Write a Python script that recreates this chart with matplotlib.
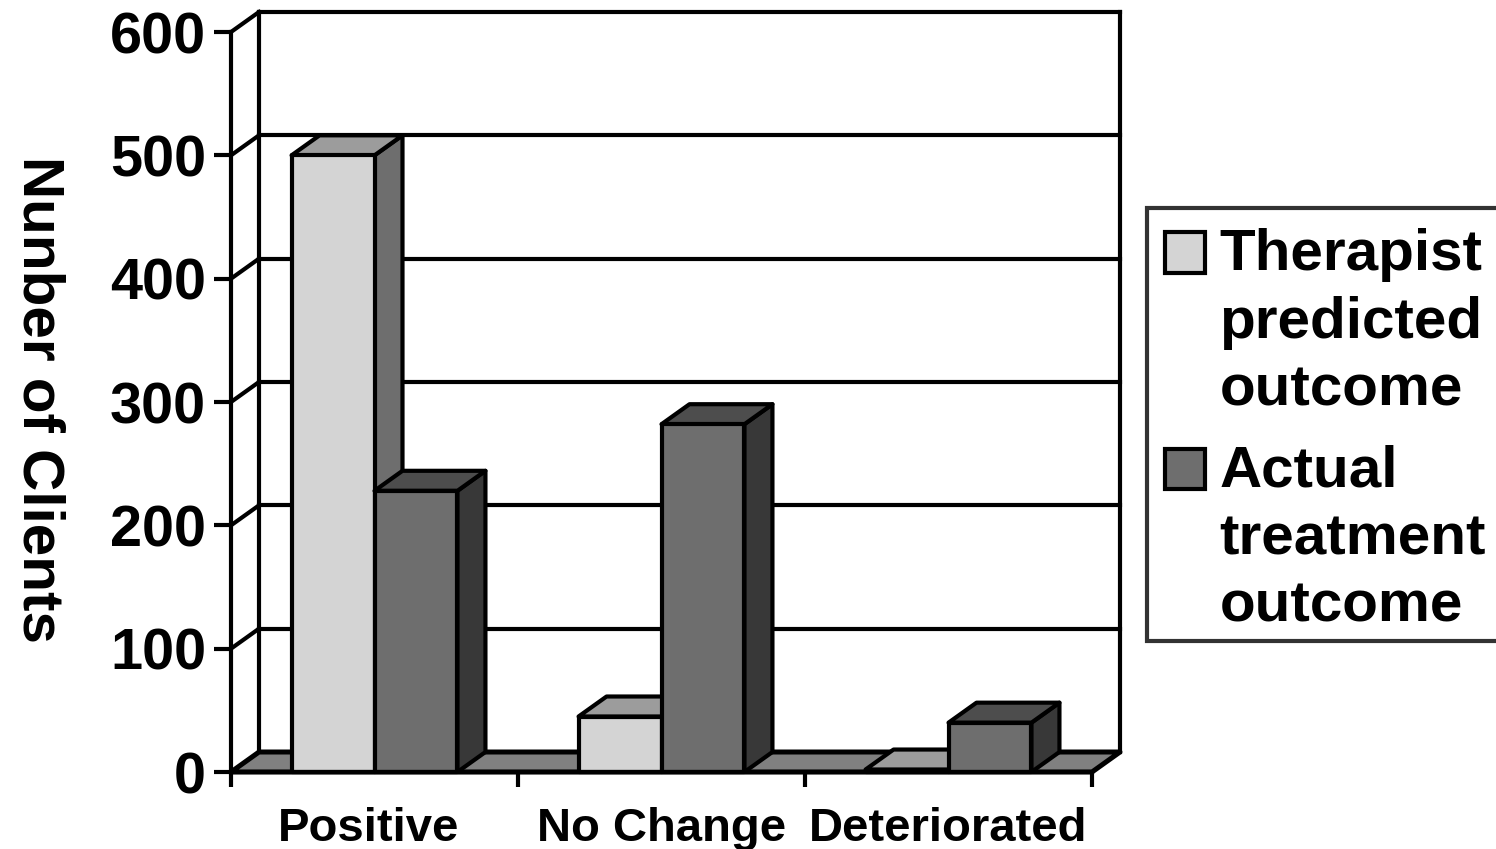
import matplotlib
matplotlib.use('Agg')
import matplotlib.pyplot as plt
from matplotlib.patches import Patch, Polygon, Rectangle
from matplotlib.legend_handler import HandlerPatch

categories = ['Positive', 'No Change', 'Deteriorated']
label_positions = [0.48, 1.5, 2.5]
therapist_predicted = [500, 45, 2]
actual_outcome = [228, 282, 40]
y_ticks = [0, 100, 200, 300, 400, 500, 600]
legend_labels = ['Therapist\npredicted\noutcome', 'Actual\ntreatment\noutcome']

W, H = 1496, 849
LEFT, RIGHT, BOTTOM, TOP = 231, 1092, 772, 32
DX = 28 / ((RIGHT - LEFT) / 3)
DY = 20 / ((BOTTOM - TOP) / 600)
BAR_W = 0.289
LW = 3

LIGHT = ('#d4d4d4', '#9c9c9c', '#6e6e6e')
DARK = ('#6e6e6e', '#4d4d4d', '#383838')

plt.rcParams['font.family'] = ['Liberation Sans', 'DejaVu Sans']
plt.rcParams['font.weight'] = 'bold'


def draw_bar(ax, x0, value, colors, z):
    face, top, side = colors
    x1 = x0 + BAR_W
    ax.add_patch(Polygon([(x1, 0), (x1 + DX, DY), (x1 + DX, value + DY), (x1, value)],
                         fc=side, ec='black', lw=LW, zorder=z, clip_on=False, joinstyle='round'))
    ax.add_patch(Polygon([(x0, value), (x1, value), (x1 + DX, value + DY), (x0 + DX, value + DY)],
                         fc=top, ec='black', lw=LW, zorder=z, clip_on=False, joinstyle='round'))
    ax.add_patch(Rectangle((x0, 0), BAR_W, value, fc=face, ec='black', lw=LW,
                           zorder=z, clip_on=False, joinstyle='round'))


def legend_square(legend, orig_handle, xdescent, ydescent, width, height, fontsize):
    return Rectangle((-xdescent, -ydescent + 55.7), 29, 29)


fig = plt.figure(figsize=(W / 100, H / 100), dpi=100)
ax = fig.add_axes([LEFT / W, 1 - BOTTOM / H, (RIGHT - LEFT) / W, (BOTTOM - TOP) / H])
ax.set_xlim(0, 3)
ax.set_ylim(0, 600)
ax.patch.set_visible(False)
for name in ['top', 'right']:
    ax.spines[name].set_visible(False)
for name in ['left', 'bottom']:
    ax.spines[name].set_linewidth(LW)
    ax.spines[name].set_zorder(20)

# walls and floor
ax.plot([DX, DX], [DY, 600 + DY], color='black', lw=LW, clip_on=False, zorder=1)
ax.plot([3 + DX, 3 + DX], [DY, 600 + DY], color='black', lw=LW, clip_on=False, zorder=1)
for v in y_ticks[1:]:
    ax.plot([DX, 3 + DX], [v + DY, v + DY], color='black', lw=LW, clip_on=False, zorder=1)
    ax.plot([0, DX], [v, v + DY], color='black', lw=LW, clip_on=False, zorder=1)
ax.add_patch(Polygon([(0, 0), (3, 0), (3 + DX, DY), (DX, DY)], fc='#808080', ec='black',
                     lw=LW + 0.6, zorder=2, clip_on=False, joinstyle='round'))

z = 3
for i in range(len(categories)):
    x0 = i + 0.5 - BAR_W
    draw_bar(ax, x0, therapist_predicted[i], LIGHT, z)
    draw_bar(ax, x0 + BAR_W, actual_outcome[i], DARK, z + 1)
    z += 2

ax.set_yticks(y_ticks)
ax.tick_params(axis='y', length=12, width=LW, pad=6, labelsize=41.5)
ax.set_xticks(range(len(categories) + 1))
ax.set_xticklabels([])
ax.tick_params(axis='x', which='major', length=11, width=LW)
ax.set_xticks(label_positions, minor=True)
ax.set_xticklabels(categories, minor=True, fontsize=34)
ax.tick_params(axis='x', which='minor', length=0, pad=25)

ax.set_ylabel('Nunber of Clients', rotation=270, fontsize=42, fontweight='bold',
              va='center', ha='center')
ax.yaxis.set_label_coords((38 - LEFT) / (RIGHT - LEFT), 0.503)

# legend frame is separate so the text can sit lower in it than borderpad allows
fig.add_artist(Rectangle((1147 / W, 1 - 641 / H), 360 / W, 433 / H, transform=fig.transFigure,
                         fc='white', ec='#333333', lw=LW, zorder=-1))
handles = [Patch(fc=LIGHT[0], ec='black', lw=LW), Patch(fc=DARK[0], ec='black', lw=LW)]
leg = ax.legend(handles, legend_labels, loc='upper left',
                bbox_to_anchor=(1147 / W, 1 - 211 / H), bbox_transform=fig.transFigure,
                borderaxespad=0, fontsize=42, frameon=False,
                handlelength=0.69, handleheight=1.0, handletextpad=0.25, labelspacing=0.47,
                borderpad=0.3, handler_map={Patch: HandlerPatch(patch_func=legend_square)})
for t in leg.get_texts():
    t.set_linespacing(1.32)

fig.savefig('out.png', dpi=100)
